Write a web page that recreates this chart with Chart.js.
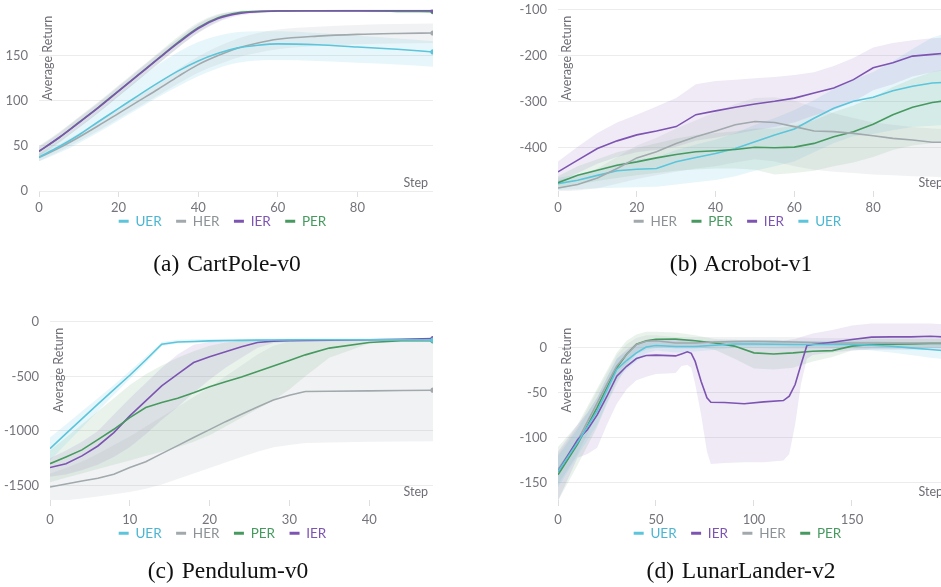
<!DOCTYPE html>
<html>
<head>
<meta charset="utf-8">
<script src="https://cdn.jsdelivr.net/npm/chart.js@4.4.1/dist/chart.umd.min.js"></script>
<style>
  body { margin: 0; width: 941px; height: 587px; overflow: hidden; background: #fff; position: relative; }
  canvas { position: absolute; }
  .cap { position: absolute; width: 450px; text-align: center; font: 23.5px 'Liberation Serif', serif; line-height: 26px; word-spacing: 2px; color: #111; }
</style>
</head>
<body>
<canvas id="cart" width="450" height="264" style="left:0;top:-9px"></canvas>
<canvas id="acro" width="450" height="264" style="left:515px;top:-9px"></canvas>
<canvas id="pend" width="450" height="263" style="left:0;top:303px"></canvas>
<canvas id="lunar" width="450" height="263" style="left:515px;top:303px"></canvas>
<div class="cap" style="left:2px;top:250px">(a) CartPole-v0</div>
<div class="cap" style="left:516px;top:250px">(b) Acrobot-v1</div>
<div class="cap" style="left:3px;top:557px">(c) Pendulum-v0</div>
<div class="cap" style="left:516px;top:557px">(d) LunarLander-v2</div>
<script>
// ── (a) CartPole-v0 ──
const cartSteps = [0,5,10,15,20,25,30,35,40,45,50,55,60,70,80,90,99];
const cartUER   = [37.5,49,62,77,91.5,106,120,133,144,152.5,158.5,161.5,163,162,159.5,157,154];
const cartUERHi = [41,55,71,88,106,124,140,154,165,172,176,177,177,175,172,169,166];
const cartUERLo = [33,42,53,65,78,91,104,116,127,136,142,144.5,145,144,142,140,137.5];
const cartHER   = [37,47.5,59.5,72.5,86,99.5,113,127,140,150,158.5,164,168,171.5,173.5,174.5,175];
const cartHERHi = [41,51.5,64,78,92,106,120,135,149,160,169,175,179,182,184,185,185.5];
const cartHERLo = [33,43.5,55,67,80,93,106,119,131,140,148,153,157,160.5,162.5,163.5,164];
const cartIER   = [44,59,75.5,92.5,110.5,128.5,146.5,164,180,191,196.5,198.5,199.3,199.7,199.8,199.9,199.9];
const cartIERHi = [49,64,81,98,116,134,152,169,185,195,199,199.8,200.2,200.4,200.5,200.6,200.6];
const cartIERLo = [39,54,70,87,105,123,141,159,175,187,194,197,198.4,199,199.1,199.2,199.2];
const cartPER   = [44,59,76,93,111,129,147,165,181,192,197.5,199,199.5,199.5,199.3,199,198.7];
const cartPERHi = [50,65,82,99,117,135,153,171,186.5,196,199.5,200.2,200.4,200.4,200.2,199.9,199.6];
const cartPERLo = [38,53,70,87,105,123,141,159,175.5,188,195.5,197.8,198.6,198.6,198.4,198.1,197.8];
const cartXTicks = [0,20,40,60,80];
const cartYTicks = [0,50,100,150];

// ── (b) Acrobot-v1 ──
const acroSteps = [0,5,10,15,20,25,30,35,40,45,50,55,60,65,70,75,80,85,90,95,99];
const acroHER   = [-487.6,-480,-465.7,-445,-422,-408.7,-390.5,-376,-363.5,-350,-343,-345,-354,-363.5,-365,-368.7,-373.7,-379.6,-383,-388,-388];
const acroHERHi = [-470,-462,-445,-420,-395,-378,-358,-340,-322,-305,-292,-290,-298,-312,-325,-335,-345,-350,-355,-358,-360];
const acroHERLo = [-495,-493,-488,-478,-468,-460,-452,-445,-440,-432,-425,-430,-440,-448,-452,-455,-458,-460,-462,-463,-465];
const acroPER   = [-476,-459.8,-449,-438,-430.6,-422,-414.6,-408.7,-406.5,-403.7,-399,-400,-398.5,-390.5,-376,-365,-349,-328,-312,-301.5,-297];
const acroPERHi = [-462,-440,-425,-410,-400,-390,-380,-372,-368,-364,-358,-358,-352,-340,-322,-308,-290,-268,-250,-235,-228];
const acroPERLo = [-490,-480,-472,-466,-460,-455,-450,-447,-445,-445,-448,-458,-455,-450,-440,-432,-420,-405,-395,-390,-388];
const acroIER   = [-452.5,-427,-401.5,-385,-372,-363.5,-354,-328,-319.7,-312,-305,-299,-292,-281,-270,-251.8,-226,-215,-200.7,-197,-194];
const acroIERHi = [-430,-398,-368,-345,-328,-310,-292,-262,-255,-252,-249,-246,-242,-236,-222,-205,-182,-172,-166,-162,-160];
const acroIERLo = [-475,-455,-435,-420,-410,-405,-398,-385,-378,-370,-362,-355,-345,-330,-318,-300,-275,-262,-245,-236,-230];
const acroUER   = [-478,-470.7,-460,-450,-446.6,-445,-430.6,-421,-412.4,-401.5,-386.8,-372,-359,-335.8,-314,-299,-290,-276,-266.4,-259,-257.6];
const acroUERHi = [-465,-458,-446,-435,-425,-420,-405,-393,-382,-368,-350,-335,-318,-296,-272,-252,-235,-212,-185,-160,-150];
const acroUERLo = [-492,-490,-488,-487,-486,-485,-480,-475,-470,-462,-450,-440,-430,-410,-390,-375,-370,-362,-355,-352,-350];
const acroXTicks = [0,20,40,60,80];
const acroYTicks = [-400,-300,-200,-100];

// ── (c) Pendulum-v0 ──
const pendSteps = [0,2,4,6,8,10,12,14,16,18,20,22,24,26,28,30,32,35,40,44,48];
const pendUER   = [-1162,-1025,-890,-755,-622,-490,-350,-205,-185,-180,-175,-172,-170,-168,-167,-166,-165,-165,-165,-166,-168];
const pendUERHi = [-1060,-940,-820,-700,-580,-450,-320,-185,-165,-160,-158,-157,-156,-155,-155,-155,-155,-155,-155,-155,-158];
const pendUERLo = [-1270,-1120,-970,-820,-670,-525,-380,-225,-200,-195,-190,-186,-183,-180,-178,-177,-176,-175,-175,-176,-178];
const pendHER   = [-1514,-1487,-1459,-1434,-1398,-1336,-1282,-1208,-1135,-1061,-988,-915,-848,-780,-716,-673,-639,-636,-633,-630,-627];
const pendHERHi = [-1390,-1340,-1280,-1210,-1130,-1050,-960,-870,-780,-690,-600,-500,-400,-300,-220,-180,-165,-160,-158,-158,-160];
const pendHERLo = [-1650,-1635,-1620,-1600,-1580,-1560,-1530,-1490,-1440,-1390,-1340,-1290,-1240,-1190,-1150,-1130,-1110,-1105,-1100,-1098,-1095];
const pendPER   = [-1300,-1238,-1174,-1080,-985,-878,-786,-740,-700,-650,-596,-550,-505,-455,-404,-354,-303,-241,-190,-174,-174];
const pendPERHi = [-1180,-1060,-940,-820,-700,-580,-480,-400,-330,-270,-220,-190,-175,-165,-162,-160,-158,-158,-160,-160,-162];
const pendPERLo = [-1470,-1430,-1390,-1350,-1310,-1270,-1230,-1190,-1150,-1100,-1040,-960,-880,-800,-720,-620,-500,-330,-200,-185,-185];
const pendIER   = [-1336,-1300,-1229,-1138,-1015,-862,-725,-587,-480,-373,-321,-275,-229,-190,-177,-174,-171,-168,-165,-160,-153];
const pendIERHi = [-1250,-1180,-1100,-1000,-850,-700,-560,-420,-300,-210,-185,-170,-165,-162,-160,-158,-156,-155,-155,-153,-148];
const pendIERLo = [-1420,-1400,-1360,-1310,-1240,-1150,-1030,-900,-780,-650,-530,-420,-330,-240,-195,-185,-182,-180,-176,-170,-162];
const pendXTicks = [0,10,20,30,40];
const pendYTicks = [-1500,-1000,-500,0];

// ── (d) LunarLander-v2 ──
const lunarSteps = [0,10,20,25,30,35,40,45,50,60,70,80,90,100,110,120,130,140,150,160,170,180,190,199];
const lunarUER   = [-137.5,-105,-70,-47,-24,-14,-5.5,1,2.6,1.5,1.5,3,4.4,4.4,4,3.7,3.7,3.7,3.7,3,1.9,0,-1.8,-3.5];
const lunarUERHi = [-120,-90,-55,-33,-12,-4,4,8,9,8,7,8,9,9,9,8,8,8,8,8,7,6,5,4];
const lunarUERLo = [-155,-120,-85,-61,-36,-24,-15,-6,-3,-5,-4,-2,0,0,-1,-1,-1,-1,-1,-3,-5,-8,-11,-13];
const lunarHER   = [-135,-103,-61,-40,-20,-7,3.7,7.4,8,5.5,5.5,6.6,7,7.4,7,6.6,6,5.5,5.5,5.5,5.5,5.5,5.5,5.5];
const lunarHERHi = [-118,-88,-48,-28,-8,4,11,14,14,12,12,12,12,12,12,12,11,11,11,11,11,11,11,11];
const lunarHERLo = [-152,-118,-74,-52,-32,-18,-4,0,2,-1,-1,1,2,2,2,1,1,0,0,0,0,0,0,0];
const lunarPER   = [-141,-107,-66,-44,-22,-7,4,7.8,9.6,9.7,8,5.5,2,-5.5,-6.7,-5.5,-3.7,-3,2,3.7,4,4.4,5,5];
const lunarPERHi = [-110,-85,-45,-25,-5,8,15,18,18,17,14,10,9,8,8,8,7,7,9,10,10,10,10,10];
const lunarPERLo = [-170,-130,-88,-62,-40,-20,-7,-2,0,1,1,-2,-12,-23,-24,-22,-15,-10,-3,-1,-1,-1,0,0];
const lunarIERSteps = [0,10,15,20,25,30,35,40,45,50,60,63,66,68,70,73,76,78,85,95,105,115,118,121,124,127,130,140,150,160,170,180,190,199];
const lunarIER   = [-137.5,-102,-91,-74.5,-53.7,-31.5,-20.4,-11.8,-8.5,-8,-8.9,-6.7,-4.4,-6,-15,-37,-55.5,-60.4,-60.7,-62,-60,-58.5,-53.7,-40.7,-18.5,2.6,3.7,6.3,9.3,12,12.2,12.2,13,12];
const lunarIERHi = [-115,-85,-72,-55,-33,-12,-2,5,8,9,9,10,10,10,9,8,8,8,8,8,8,8,9,10,12,14,16,20,25,27,27,27,27,26];
const lunarIERLo = [-170,-122,-118,-111,-85,-62,-46,-36,-32,-29,-28,-20,-19,-22,-40,-74,-115,-129,-128,-127,-127,-125,-118,-85,-40,-12,-8,-5,-3,-2,-2,-2,-2,-2];
const lunarXTicks = [0,50,100,150];
const lunarYTicks = [-150,-100,-50,0];

const COLORS = { UER: '#5bc5db', HER: '#a1a9ad', IER: '#7d54b2', PER: '#479a5f' };
const TEXTS  = { UER: '#4ab6d2', HER: '#8c9296', IER: '#7d54b2', PER: '#479a5f' };
const BANDS  = { UER: 'rgba(91,197,219,0.15)', HER: 'rgba(161,169,173,0.15)', IER: 'rgba(125,84,178,0.12)', PER: 'rgba(71,154,95,0.12)' };
const TICK = '#74747c';

Chart.defaults.font.family = 'Lato';
Chart.defaults.color = TICK;

// "Step" and "Average Return" sit inside the plot, wandb style
const innerTitles = {
  id: 'innerTitles',
  afterDraw(chart) {
    const { ctx, chartArea: a } = chart;
    ctx.save();
    ctx.font = '12.5px Lato';
    ctx.fillStyle = '#6e6e76';
    ctx.textAlign = 'right';
    ctx.textBaseline = 'middle';
    ctx.fillText('Step', a.right - 5, a.bottom - 8);
    ctx.translate(a.left + 9, a.top + 6);
    ctx.rotate(-Math.PI / 2);
    ctx.fillText('Average Return', 0, 0);
    ctx.restore();
  }
};

// pull the legend up under the tick labels (padding is also the item gap)
const legendNudge = {
  id: 'legendNudge',
  afterLayout(chart, args, opts) {
    const lg = chart.legend;
    lg.left += opts.dx; lg.right += opts.dx;
    lg.top += opts.dy; lg.bottom += opts.dy;
  }
};

function makeChart(id, cfg) {
  const lines = [], bands = [];
  for (const s of cfg.series) {
    const c = COLORS[s.name];
    const pts = ys => ys.map((y, i) => ({ x: s.x[i], y }));
    const last = s.x.length - 1;
    const curve = cfg.smooth ? { cubicInterpolationMode: 'monotone' } : { tension: 0 };
    lines.push({ label: s.name, data: pts(s.mean), borderColor: c, backgroundColor: c, borderWidth: 1.6,
      pointRadius: ctx => ctx.dataIndex === last ? 2.6 : 0, pointBorderWidth: 0, fill: false, ...curve });
    bands.push({ label: s.name + ' hi', band: true, data: pts(s.hi), borderWidth: 0, borderColor: 'transparent',
      pointRadius: 0, backgroundColor: BANDS[s.name], fill: '+1', ...curve });
    bands.push({ label: s.name + ' lo', band: true, data: pts(s.lo), borderWidth: 0, borderColor: 'transparent',
      pointRadius: 0, fill: false, ...curve });
  }
  return new Chart(document.getElementById(id), {
    type: 'line',
    data: { datasets: [...lines, ...bands] },
    plugins: [innerTitles, legendNudge],
    options: {
      responsive: false, animation: false,
      layout: { padding: { top: 1, right: 17, left: 0, bottom: 0 } },
      plugins: {
        tooltip: { enabled: false },
        legendNudge: { dx: 6, dy: cfg.legendDy },
        legend: {
          position: 'bottom',
          labels: {
            boxWidth: 10, boxHeight: 3, padding: 14.5, font: { size: 13.5 },
            generateLabels: chart => chart.data.datasets
              .map((d, i) => ({ d, i }))
              .filter(o => !o.d.band)
              .map(({ d, i }) => ({ text: d.label, fillStyle: d.borderColor, strokeStyle: d.borderColor,
                lineWidth: 0, fontColor: TEXTS[d.label], datasetIndex: i, hidden: false }))
          }
        }
      },
      scales: {
        x: {
          type: 'linear', min: cfg.xMin, max: cfg.xMax,
          afterBuildTicks: sc => { sc.ticks = cfg.xTicks.map(v => ({ value: v })); },
          afterFit: sc => { sc.height = cfg.xH; },
          ticks: { color: TICK, padding: cfg.xPad, maxRotation: 0, font: { size: 13 }, callback: v => String(v) },
          grid: { drawOnChartArea: false, tickLength: 6, color: '#dedede' },
          border: { display: false }
        },
        y: {
          min: cfg.yMin, max: cfg.yMax,
          afterBuildTicks: sc => { sc.ticks = cfg.yTicks.map(v => ({ value: v })); },
          afterFit: sc => { sc.width = cfg.yW; },
          ticks: { color: TICK, padding: 11, font: { size: 13 }, callback: v => String(v) },
          grid: { drawTicks: false, color: '#ececec' },
          border: { display: false }
        }
      }
    }
  });
}

makeChart('cart', {
  smooth: true, xMin: 0, xMax: 99, yMin: 0, yMax: 200.7, xTicks: cartXTicks, yTicks: cartYTicks, yW: 39, xH: 26, xPad: 3, legendDy: -17,
  series: [
    { name: 'UER', x: cartSteps, mean: cartUER, hi: cartUERHi, lo: cartUERLo },
    { name: 'HER', x: cartSteps, mean: cartHER, hi: cartHERHi, lo: cartHERLo },
    { name: 'IER', x: cartSteps, mean: cartIER, hi: cartIERHi, lo: cartIERLo },
    { name: 'PER', x: cartSteps, mean: cartPER, hi: cartPERHi, lo: cartPERLo }
  ]
});

makeChart('acro', {
  smooth: false, xMin: 0, xMax: 99, yMin: -494, yMax: -100, xTicks: acroXTicks, yTicks: acroYTicks, yW: 43, xH: 26, xPad: 3, legendDy: -17,
  series: [
    { name: 'HER', x: acroSteps, mean: acroHER, hi: acroHERHi, lo: acroHERLo },
    { name: 'PER', x: acroSteps, mean: acroPER, hi: acroPERHi, lo: acroPERLo },
    { name: 'IER', x: acroSteps, mean: acroIER, hi: acroIERHi, lo: acroIERLo },
    { name: 'UER', x: acroSteps, mean: acroUER, hi: acroUERHi, lo: acroUERLo }
  ]
});

makeChart('pend', {
  smooth: false, xMin: 0, xMax: 48, yMin: -1633, yMax: 0, xTicks: pendXTicks, yTicks: pendYTicks, yW: 50, xH: 28, xPad: 6, legendDy: -16,
  series: [
    { name: 'UER', x: pendSteps, mean: pendUER, hi: pendUERHi, lo: pendUERLo },
    { name: 'HER', x: pendSteps, mean: pendHER, hi: pendHERHi, lo: pendHERLo },
    { name: 'PER', x: pendSteps, mean: pendPER, hi: pendPERHi, lo: pendPERLo },
    { name: 'IER', x: pendSteps, mean: pendIER, hi: pendIERHi, lo: pendIERLo }
  ]
});

makeChart('lunar', {
  smooth: false, xMin: 0, xMax: 199, yMin: -169, yMax: 29, xTicks: lunarXTicks, yTicks: lunarYTicks, yW: 43, xH: 28, xPad: 6, legendDy: -16,
  series: [
    { name: 'UER', x: lunarSteps, mean: lunarUER, hi: lunarUERHi, lo: lunarUERLo },
    { name: 'IER', x: lunarIERSteps, mean: lunarIER, hi: lunarIERHi, lo: lunarIERLo },
    { name: 'HER', x: lunarSteps, mean: lunarHER, hi: lunarHERHi, lo: lunarHERLo },
    { name: 'PER', x: lunarSteps, mean: lunarPER, hi: lunarPERHi, lo: lunarPERLo }
  ]
});
</script>
</body>
</html>
